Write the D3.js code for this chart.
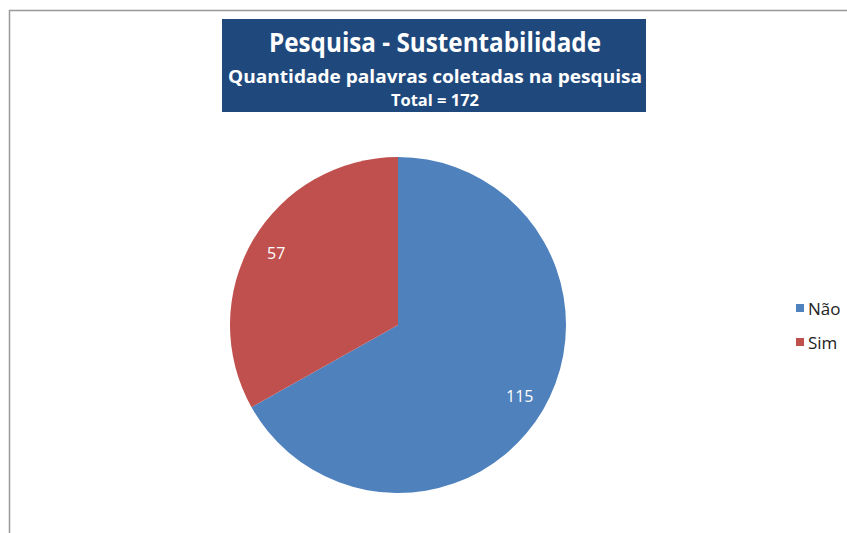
<!DOCTYPE html>
<html><head><meta charset="utf-8">
<script src="https://cdn.jsdelivr.net/npm/d3@7"></script>
<style>body{margin:0;background:#fff;overflow:hidden}svg{display:block}</style>
</head><body>
<svg id="c" width="847" height="533"></svg>
<script>
const categories = ["Não", "Sim"];
const values = [115, 57];
const colors = ["#4F81BD", "#C0504D"];
const titleLines = ["Pesquisa - Sustentabilidade", "Quantidade palavras coletadas na pesquisa", "Total = 172"];

const svg = d3.select("#c");
const W = 847, H = 533;
svg.append("rect").attr("width", W).attr("height", H).attr("fill", "#fff");
// chart area border (left + top visible)
svg.append("path").attr("d", `M9.5,${H} V10.5 H${W}`).attr("fill", "none").attr("stroke", "#999").attr("stroke-width", 1.5);

// title box
svg.append("rect").attr("x", 222).attr("y", 19).attr("width", 424).attr("height", 93).attr("fill", "#1F497D");
const tfont = "'Open Sans', 'Liberation Sans', sans-serif";
const tl = [{t: titleLines[0], y: 52, s: 26, w: 332}, {t: titleLines[1], y: 83, s: 18, w: 414}, {t: titleLines[2], y: 106, s: 16, w: 88}];
svg.selectAll("text.title").data(tl).enter().append("text")
  .attr("class", "title").attr("x", 435).attr("y", d => d.y).attr("text-anchor", "middle")
  .attr("font-family", tfont).attr("font-weight", "bold").attr("font-size", d => d.s)
  .attr("fill", "#fff").attr("textLength", d => d.w).attr("lengthAdjust", "spacingAndGlyphs")
  .text(d => d.t);

// pie
const cx = 398, cy = 325, r = 168;
const pie = d3.pie().sort(null).value(d => d)(values);
const arc = d3.arc().innerRadius(0).outerRadius(r);
const g = svg.append("g").attr("transform", `translate(${cx},${cy})`);
g.selectAll("path").data(pie).enter().append("path")
  .attr("d", arc).attr("fill", (d, i) => colors[i]);

const labelArc = d3.arc().innerRadius(r * 0.84).outerRadius(r * 0.84);
g.selectAll("text").data(pie).enter().append("text")
  .attr("transform", d => { const c = labelArc.centroid(d); return `translate(${c[0]},${c[1]})`; })
  .attr("text-anchor", "middle").attr("dy", "0.35em")
  .attr("font-family", tfont).attr("font-size", 16).attr("fill", "#fff")
  .text(d => d.data);

// legend
const lg = svg.append("g").attr("transform", "translate(796,304)");
const items = lg.selectAll("g").data(categories).enter().append("g")
  .attr("transform", (d, i) => `translate(0,${i * 34})`);
items.append("rect").attr("width", 8).attr("height", 8).attr("fill", (d, i) => colors[i]);
items.append("text").attr("x", 12).attr("y", 11).attr("font-family", tfont).attr("font-size", 17)
  .attr("fill", "#222").text(d => d);
</script>
</body></html>
